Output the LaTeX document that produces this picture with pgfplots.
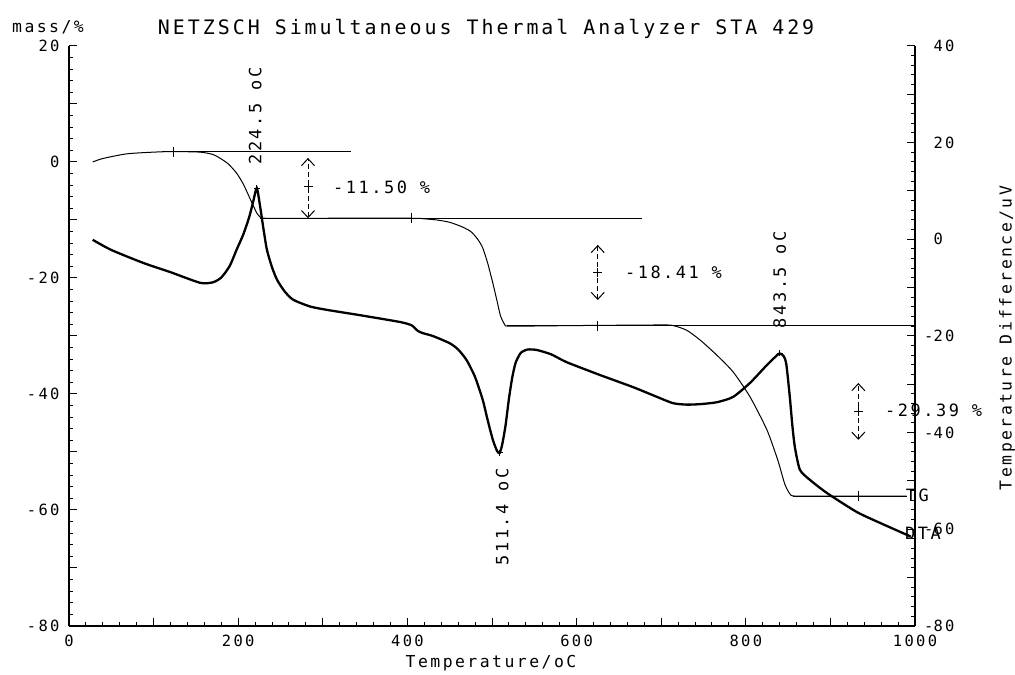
\documentclass[border=0pt]{standalone}
\usepackage{fontspec}
\setmainfont{DejaVu Sans Mono}[LetterSpace=15]
\usepackage{pgfplots}
\pgfplotsset{compat=1.18}
\usetikzlibrary{arrows.meta}

\pgfplotstableread{
T m
28 0.0
40 0.6
68 1.4
100 1.7
123 1.8
155 1.7
170 1.3
178 0.7
188 -0.3
198 -1.9
206 -3.8
213 -6.0
218 -7.6
222 -8.8
226 -9.5
232 -9.7
300 -9.7
405 -9.7
420 -9.8
435 -10.0
450 -10.4
465 -11.2
475 -12.0
483 -13.3
489 -14.8
495 -17.5
501 -20.9
506 -24.0
510 -26.5
515 -28.0
522 -28.3
600 -28.2
700 -28.1
714 -28.2
730 -29.0
746 -30.7
765 -33.2
785 -36.2
805 -40.5
825 -46.2
838 -51.5
846 -55.5
852 -57.2
858 -57.6
900 -57.6
990 -57.6
}\tgdata

\pgfplotstableread{
T v
28 -0.1
50 -2.2
88 -4.9
120 -6.8
155 -9.0
170 -8.9
180 -7.9
190 -5.5
198 -2.2
206 1.0
213 4.6
218 8.0
222 10.6
226 6.7
230 2.0
234 -2.2
240 -5.8
246 -8.4
255 -10.8
265 -12.5
285 -13.9
305 -14.6
344 -15.7
391 -17.1
405 -17.8
412 -18.9
418 -19.4
430 -20.0
450 -21.5
460 -22.8
470 -25.0
480 -28.5
489 -33.2
495 -37.5
501 -41.5
506 -43.8
509 -44.2
512 -42.5
516 -38.5
520 -33.0
524 -28.5
528 -25.5
534 -23.5
542 -22.8
553 -22.9
570 -23.8
588 -25.4
628 -28.1
667 -30.6
695 -32.6
714 -33.9
730 -34.2
746 -34.1
766 -33.7
785 -32.6
805 -29.7
825 -26.0
835 -24.3
840 -23.6
845 -24.2
848 -26.0
852 -32.6
855 -38.5
858 -43.0
864 -47.7
876 -49.8
896 -52.5
931 -56.4
959 -58.7
986 -60.8
995 -61.5
}\dtadata

\tikzset{
  barb/.tip={Straight Barb[length=7bp,width=13bp,line width=1bp]},
  annot/.style={font=\fontsize{17}{17}\selectfont, inner sep=0pt},
}

\begin{document}
\begin{tikzpicture}[x=1bp,y=1bp]
\useasboundingbox (0,0) rectangle (1015,675);
\begin{axis}[
  at={(69bp,49bp)}, anchor=south west, scale only axis,
  width=846bp, height=580bp,
  xmin=0, xmax=1000, ymin=-80, ymax=20,
  axis x line*=bottom, axis y line*=left,
  tick align=inside,
  xtick={0,100,...,1000}, xticklabels={0,,200,,400,,600,,800,,1000},
  minor x tick num=4,
  ytick={-80,-70,...,20}, yticklabels={-80,,-60,,-40,,-20,,0,,20},
  minor y tick num=4,
  major tick length=8bp, minor tick length=4bp,
  every tick/.style={black, line width=1bp},
  axis line style={line width=1.5bp},
  ticklabel style={font=\fontsize{15.5}{15.5}\selectfont},
  yticklabel style={anchor=east, xshift=-6bp},
  xticklabel style={anchor=north, yshift=-6bp},
  title={NETZSCH Simultaneous Thermal Analyzer STA 429},
  title style={font=\fontsize{20}{20}\selectfont, at={(axis description cs:0.493,1)}, anchor=center, yshift=11bp},
  xlabel={Temperature/oC},
  every axis x label/.style={at={(axis description cs:0.4988,-0.0638)}, anchor=center, font=\fontsize{16.5}{16.5}\selectfont},
  ylabel={mass/\%},
  every axis y label/.style={at={(axis description cs:0,1)}, anchor=center, xshift=-21bp, yshift=19bp, font=\fontsize{16.5}{16.5}\selectfont},
  clip=false,
]
% TG curve
\addplot[black, line width=1bp, smooth, tension=0.4] table[x=T, y=m] {\tgdata};
% baselines
\addplot[black, line width=0.9bp] coordinates {(110,1.8) (333,1.8)};
\addplot[black, line width=0.9bp] coordinates {(226,-9.7) (677,-9.7)};
\addplot[black, line width=0.9bp] coordinates {(518,-28.2) (1000,-28.2)};
\addplot[black, line width=0.9bp] coordinates {(856,-57.6) (990,-57.6)};
% + marks on baselines
\addplot[only marks, mark=+, mark size=5bp, mark options={line width=1bp}] coordinates {(123,1.8) (405,-9.7) (625,-28.2) (933,-57.6)};
% step arrows
\addplot[black, line width=1bp, dash pattern=on 5bp off 3bp, barb-barb] coordinates {(282.5,-9.7) (282.5,0.7)};
\addplot[black, line width=1bp, dash pattern=on 5bp off 3bp, barb-barb] coordinates {(625,-23.8) (625,-14.3)};
\addplot[black, line width=1bp, dash pattern=on 5bp off 3bp, barb-barb] coordinates {(933,-47.9) (933,-38.1)};
\addplot[only marks, mark=+, mark size=4.5bp, mark options={line width=1bp}] coordinates {(282.5,-4.3) (625,-19) (933,-43.1)};
% annotations
\node[annot, anchor=west] at (axis cs:312,-4.3) {-11.50 \%};
\node[annot, anchor=west] at (axis cs:657,-19) {-18.41 \%};
\node[annot, anchor=west] at (axis cs:964.5,-42.8) {-29.39 \%};
\node[annot, rotate=90, anchor=center] at (axis cs:220,7.9) {224.5 oC};
\node[annot, rotate=90, anchor=center] at (axis cs:840,-20.3) {843.5 oC};
\node[annot, rotate=90, anchor=center] at (axis cs:512,-61.2) {511.4 oC};
\node[annot, anchor=west] at (axis cs:989,-57.4) {TG};
\node[annot, anchor=west] at (axis cs:988,-64) {DTA};
\end{axis}
\begin{axis}[
  at={(69bp,49bp)}, anchor=south west, scale only axis,
  width=846bp, height=580bp,
  xmin=0, xmax=1000, ymin=-80, ymax=40,
  axis x line=none, axis y line*=right,
  tick align=inside,
  ytick={-80,-70,...,40},
  yticklabels={\llap{-}80,,\llap{-}60,,\llap{-}40,,\llap{-}20,,0,,20,,40},
  minor y tick num=4,
  major tick length=8bp, minor tick length=4bp,
  every tick/.style={black, line width=1bp},
  axis line style={line width=1.5bp},
  ticklabel style={font=\fontsize{15.5}{15.5}\selectfont},
  yticklabel style={anchor=west, xshift=15bp},
  ylabel={Temperature Difference/uV},
  every axis y label/.style={at={(axis description cs:1.1087,0.4966)}, rotate=90, anchor=center, font=\fontsize{16.5}{16.5}\selectfont},
  clip=false,
]
\addplot[black, line width=2.3bp, smooth, tension=0.4] table[x=T, y=v] {\dtadata};
\addplot[only marks, mark=+, mark size=3bp, mark options={line width=1bp}] coordinates {(222,10.6) (509,-44.2) (840,-23.6)};
\end{axis}
\end{tikzpicture}
\end{document}
